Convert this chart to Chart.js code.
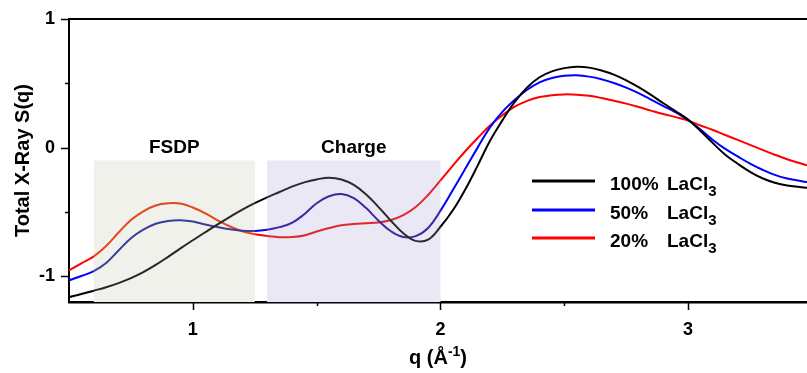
<!DOCTYPE html>
<html>
<head>
<meta charset="utf-8">
<title>Total X-Ray S(q)</title>
<script src="https://cdn.jsdelivr.net/npm/chart.js@4/dist/chart.umd.min.js"></script>
<style>
  html, body { margin: 0; padding: 0; background: #ffffff; }
  #wrap { width: 807px; height: 373px; }
</style>
</head>
<body>
<div id="wrap"><canvas id="chart" width="807" height="373"></canvas></div>
<script>
// Scattering vector q (1/Å)
const q = [0.50, 0.55, 0.60, 0.65, 0.70, 0.75, 0.80, 0.85, 0.90, 0.95,
           1.00, 1.05, 1.10, 1.15, 1.20, 1.25, 1.30, 1.35, 1.40, 1.45,
           1.50, 1.55, 1.60, 1.65, 1.70, 1.75, 1.80, 1.85, 1.90, 1.95,
           2.00, 2.05, 2.10, 2.15, 2.20, 2.25, 2.30, 2.35, 2.40, 2.45,
           2.50, 2.55, 2.60, 2.65, 2.70, 2.75, 2.80, 2.85, 2.90, 2.95,
           3.00, 3.05, 3.10, 3.15, 3.20, 3.25, 3.30, 3.35, 3.40, 3.45, 3.48];

// Total X-ray structure factor for each LaCl3 concentration
const s100 = [-1.162, -1.138, -1.112, -1.085, -1.053, -1.015, -0.968, -0.912, -0.849, -0.783,
              -0.720, -0.658, -0.597, -0.538, -0.482, -0.432, -0.386, -0.345, -0.303, -0.270,
              -0.247, -0.234, -0.248, -0.290, -0.365, -0.462, -0.568, -0.665, -0.725, -0.715,
              -0.615, -0.487, -0.325, -0.140, 0.053, 0.212, 0.355, 0.468, 0.547, 0.593,
              0.618, 0.628, 0.622, 0.600, 0.568, 0.523, 0.470, 0.410, 0.345, 0.283,
              0.218, 0.130, 0.035, -0.055, -0.125, -0.188, -0.238, -0.273, -0.295, -0.306, -0.312];
const s50  = [-1.032, -0.998, -0.960, -0.897, -0.800, -0.705, -0.638, -0.592, -0.570, -0.565,
              -0.575, -0.597, -0.617, -0.634, -0.646, -0.648, -0.638, -0.618, -0.585, -0.518,
              -0.432, -0.378, -0.360, -0.392, -0.470, -0.568, -0.650, -0.695, -0.688, -0.625,
              -0.490, -0.330, -0.165, 0.000, 0.158, 0.278, 0.372, 0.450, 0.508, 0.542,
              0.558, 0.562, 0.552, 0.532, 0.503, 0.467, 0.424, 0.374, 0.323, 0.275,
              0.215, 0.140, 0.060, -0.010, -0.068, -0.124, -0.172, -0.212, -0.240, -0.258, -0.268];
const s20  = [-0.955, -0.900, -0.845, -0.765, -0.660, -0.563, -0.495, -0.450, -0.433, -0.435,
              -0.465, -0.510, -0.565, -0.613, -0.650, -0.673, -0.687, -0.696, -0.695, -0.683,
              -0.652, -0.625, -0.604, -0.594, -0.588, -0.582, -0.563, -0.525, -0.462, -0.368,
              -0.255, -0.140, -0.028, 0.075, 0.172, 0.252, 0.318, 0.364, 0.393, 0.408,
              0.414, 0.412, 0.403, 0.386, 0.364, 0.342, 0.316, 0.288, 0.261, 0.237,
              0.210, 0.172, 0.137, 0.098, 0.060, 0.022, -0.017, -0.055, -0.090, -0.120, -0.138];

const seriesPct = ['100%', '50%', '20%'];
const seriesSalt = 'LaCl';
const seriesSub = '3';

// Axis ticks
const xTicks = [1, 1.5, 2, 2.5, 3];
const yTicks = [-1, -0.5, 0, 0.5, 1];

// Highlighted q ranges
const regionNames = ['FSDP', 'Charge'];
const regionStart = [0.6, 1.3];
const regionEnd = [1.25, 2.0];
const regionTop = -0.1;

const FONT = "'Liberation Sans', Arial, Helvetica, sans-serif";
const regionFill = ['#eff1ea', '#ebe8f5'];
// line colour outside / inside FSDP / inside Charge shading
const lineColors = [
  ['#000000', '#262626', '#2a2a2a'],
  ['#0000ff', '#3c3c9a', '#3a2c9e'],
  ['#ff0000', '#e4461f', '#de2a2e']
];

function regionIndex(v) {
  for (let i = 0; i < regionStart.length; i++) {
    if (v >= regionStart[i] && v <= regionEnd[i]) return i + 1;
  }
  return 0;
}

function makeDataset(values, idx) {
  return {
    label: seriesPct[idx] + ' ' + seriesSalt + seriesSub,
    data: q.map((x, i) => ({ x: x, y: values[i] })),
    borderColor: lineColors[idx][0],
    borderWidth: 2,
    pointRadius: 0,
    fill: false,
    tension: 0.4,
    segment: {
      borderColor: ctx => lineColors[idx][regionIndex((ctx.p0.parsed.x + ctx.p1.parsed.x) / 2)]
    }
  };
}

function drawParts(ctx, parts, x, y, align) {
  let total = 0;
  parts.forEach(p => { ctx.font = 'bold ' + p.size + 'px ' + FONT; p.w = ctx.measureText(p.t).width; total += p.w; });
  let cx = align === 'center' ? x - total / 2 : x;
  ctx.textAlign = 'left';
  ctx.textBaseline = 'alphabetic';
  parts.forEach(p => {
    ctx.font = 'bold ' + p.size + 'px ' + FONT;
    ctx.fillText(p.t, cx, y + (p.dy || 0));
    cx += p.w;
  });
}

const decor = {
  id: 'decor',
  beforeDatasetsDraw(chart) {
    const { ctx, chartArea, scales: { x, y } } = chart;
    ctx.save();
    regionStart.forEach((s, i) => {
      const l = x.getPixelForValue(s);
      const r = x.getPixelForValue(regionEnd[i]);
      const t = y.getPixelForValue(regionTop);
      ctx.fillStyle = regionFill[i];
      ctx.fillRect(l, t, r - l, chartArea.bottom - t);
    });
    ctx.restore();
  },
  afterDraw(chart) {
    const { ctx, chartArea, scales: { x, y } } = chart;
    ctx.save();
    ctx.strokeStyle = '#000';
    ctx.fillStyle = '#000';

    // top frame line
    ctx.lineWidth = 2;
    ctx.beginPath();
    ctx.moveTo(chartArea.left, chartArea.top);
    ctx.lineTo(chartArea.right, chartArea.top);
    ctx.stroke();

    // tick marks: long on integers, short on halves
    ctx.lineWidth = 1.5;
    xTicks.forEach(v => {
      const px = Math.round(x.getPixelForValue(v)) + 0.5;
      const len = Number.isInteger(v) ? 8 : 4;
      ctx.beginPath();
      ctx.moveTo(px, chartArea.bottom);
      ctx.lineTo(px, chartArea.bottom + len);
      ctx.stroke();
    });
    yTicks.forEach(v => {
      const py = Math.round(y.getPixelForValue(v)) + 0.5;
      const len = Number.isInteger(v) ? 8 : 4;
      ctx.beginPath();
      ctx.moveTo(chartArea.left, py);
      ctx.lineTo(chartArea.left - len, py);
      ctx.stroke();
    });

    // region labels
    regionNames.forEach((name, i) => {
      const cx = (x.getPixelForValue(regionStart[i]) + x.getPixelForValue(regionEnd[i])) / 2;
      const ty = y.getPixelForValue(regionTop) - 8;
      drawParts(ctx, [{ t: name, size: 19 }], cx, ty, 'center');
    });

    // legend
    const colors = lineColors.map(c => c[0]);
    const lineY = [181, 210, 238];
    seriesPct.forEach((pct, i) => {
      ctx.strokeStyle = colors[i];
      ctx.lineWidth = 3;
      ctx.beginPath();
      ctx.moveTo(532, lineY[i]);
      ctx.lineTo(595, lineY[i]);
      ctx.stroke();
      const base = lineY[i] + 9;
      drawParts(ctx, [{ t: pct, size: 19 }], 610, base, 'left');
      drawParts(ctx, [{ t: seriesSalt, size: 19 }, { t: seriesSub, size: 15, dy: 6 }], 667, base, 'left');
    });

    // axis titles
    ctx.fillStyle = '#000';
    drawParts(ctx, [{ t: 'q (Å', size: 20 }, { t: '-1', size: 14, dy: -8 }, { t: ')', size: 20 }],
      (chartArea.left + chartArea.right) / 2, 364, 'center');
    ctx.save();
    ctx.translate(29, (chartArea.top + chartArea.bottom) / 2);
    ctx.rotate(-Math.PI / 2);
    drawParts(ctx, [{ t: 'Total X-Ray S(q)', size: 20 }], 0, 0, 'center');
    ctx.restore();

    ctx.restore();
  }
};

new Chart(document.getElementById('chart'), {
  type: 'line',
  data: {
    datasets: [makeDataset(s100, 0), makeDataset(s50, 1), makeDataset(s20, 2)]
  },
  options: {
    responsive: false,
    animation: false,
    devicePixelRatio: 1,
    layout: { padding: { top: 19, left: 0, right: 0, bottom: 0 } },
    plugins: { legend: { display: false }, tooltip: { enabled: false } },
    scales: {
      x: {
        type: 'linear',
        min: 0.5,
        max: 3.48,
        afterBuildTicks: s => { s.ticks = xTicks.map(v => ({ value: v })); },
        afterFit: s => { s.height = 71; s.paddingLeft = 0; s.paddingRight = 0; },
        grid: { display: false, drawTicks: false },
        border: { display: true, color: '#000', width: 2.5 },
        ticks: {
          autoSkip: false,
          maxRotation: 0,
          padding: 17,
          color: '#000',
          font: { family: FONT, size: 18, weight: 'bold' },
          callback: v => Number.isInteger(v) ? String(v) : ''
        }
      },
      y: {
        type: 'linear',
        min: -1.2,
        max: 1.0,
        afterBuildTicks: s => { s.ticks = yTicks.map(v => ({ value: v })); },
        afterFit: s => { s.width = 69; s.paddingTop = 0; s.paddingBottom = 0; },
        grid: { display: false, drawTicks: false },
        border: { display: true, color: '#000', width: 2 },
        ticks: {
          autoSkip: false,
          padding: 14,
          color: '#000',
          font: { family: FONT, size: 18, weight: 'bold' },
          callback: v => Number.isInteger(v) ? String(v) : ''
        }
      }
    }
  },
  plugins: [decor]
});
</script>
</body>
</html>
